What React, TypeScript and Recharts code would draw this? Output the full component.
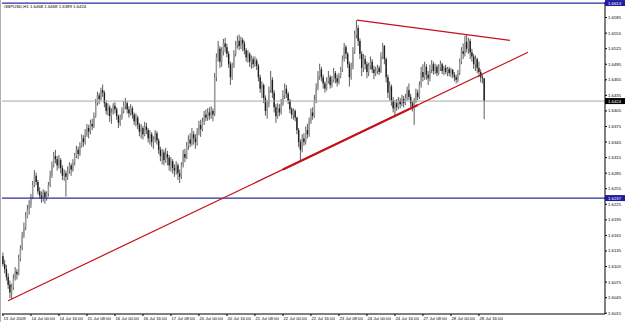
import React from "react";
import { ComposedChart, Bar, XAxis, YAxis, ReferenceLine } from "recharts";

// GBPUSD H1, prices stored as pips above 1.6000
const firstOpen = 125;

const closes = [
  110, 100, 85, 70, 55, 65, 82, 95, 90, 120,
  140, 165, 180, 200, 215, 225, 238, 262, 280, 268,
  250, 242, 236, 248, 238, 245, 262, 280, 300, 318,
  312, 300, 310, 295, 280, 285, 278, 290, 300, 292,
  305, 318, 330, 322, 338, 352, 345, 360, 372, 365,
  380, 375, 395, 420, 435, 428, 445, 440, 420, 405,
  412, 395, 402, 415, 408, 395, 382, 392, 405, 415,
  420, 408, 400, 410, 398, 385, 392, 378, 365, 372,
  360, 375, 368, 352, 360, 345, 350, 362, 348, 330,
  318, 325, 310, 322, 315, 300, 308, 295, 290, 300,
  285, 278, 300, 322, 315, 338, 350, 342, 360, 352,
  345, 365, 378, 370, 385, 398, 392, 402, 396, 405,
  398, 470, 508, 525, 500, 520, 535, 528, 515, 495,
  470, 492, 515, 532, 540, 530, 542, 535, 522, 508,
  515, 500, 505, 495, 502, 492, 470, 448, 455, 430,
  405, 418, 445, 465, 440, 412, 395, 410, 402, 418,
  435, 448, 438, 425, 408, 398, 405, 392, 368, 345,
  330, 352, 345, 368, 360, 385, 402, 395, 425, 450,
  472, 485, 470, 458, 448, 462, 470, 455, 465, 478,
  468, 460, 472, 485, 505, 528, 515, 495, 470, 490,
  520, 552, 565, 540, 515, 488, 505, 495, 480, 492,
  500, 485, 478, 482, 488, 480, 510, 530, 505, 470,
  440, 452, 425, 410, 420, 412, 425, 418, 428, 420,
  430, 445, 432, 420, 412, 425, 440, 432, 455, 480,
  470, 490, 475, 468, 485, 495, 482, 490, 478, 488,
  495, 482, 488, 480, 486, 478, 484, 475, 470, 465,
  478, 500, 520, 515, 538, 525, 540, 518, 510, 495,
  505, 488, 480, 470, 468, 424,
];

const highs = [
  132, 118, 108, 92, 78, 72, 90, 104, 100, 128,
  146, 172, 190, 210, 224, 233, 245, 270, 291, 286,
  272, 258, 250, 254, 252, 250, 268, 290, 308, 326,
  330, 318, 320, 314, 300, 292, 290, 298, 306, 304,
  312, 324, 338, 336, 345, 360, 358, 370, 380, 378,
  388, 390, 402, 428, 442, 440, 450, 456, 444, 425,
  420, 416, 410, 420, 422, 412, 398, 398, 412, 424,
  430, 424, 414, 418, 414, 402, 400, 396, 382, 380,
  376, 384, 382, 372, 368, 364, 356, 368, 366, 352,
  336, 332, 330, 334, 328, 320, 316, 312, 302, 308,
  304, 292, 306, 330, 332, 345, 358, 362, 372, 366,
  360, 372, 386, 388, 392, 405, 408, 410, 412, 414,
  410, 478, 516, 540, 530, 528, 544, 546, 535, 520,
  500, 498, 522, 540, 550, 552, 548, 546, 540, 526,
  522, 518, 512, 510, 510, 506, 496, 475, 462, 458,
  435, 426, 452, 482, 470, 445, 418, 420, 418, 428,
  445, 458, 455, 442, 428, 412, 410, 408, 394, 372,
  350, 360, 362, 375, 380, 392, 410, 412, 436, 458,
  482, 496, 490, 475, 462, 470, 482, 474, 472, 488,
  482, 475, 478, 490, 512, 536, 532, 518, 500, 498,
  528, 560, 580, 570, 545, 520, 515, 512, 500, 498,
  510, 505, 492, 490, 494, 492, 518, 536, 532, 508,
  475, 462, 456, 432, 426, 428, 432, 430, 436, 434,
  438, 452, 458, 438, 425, 430, 448, 446, 462, 490,
  495, 500, 495, 482, 494, 503, 500, 496, 494, 495,
  502, 498, 492, 494, 490, 490, 488, 486, 480, 475,
  484, 506, 528, 535, 550, 552, 546, 544, 525, 515,
  512, 508, 500, 485, 476, 468,
];

const lows = [
  105, 92, 78, 62, 44, 42, 60, 78, 80, 88,
  115, 136, 160, 175, 198, 205, 218, 235, 258, 262,
  244, 236, 228, 230, 226, 232, 240, 258, 276, 296,
  304, 290, 294, 285, 272, 270, 240, 272, 284, 280,
  288, 300, 314, 312, 318, 334, 336, 340, 355, 352,
  360, 368, 372, 392, 415, 418, 425, 432, 412, 398,
  396, 384, 380, 398, 400, 388, 372, 376, 388, 400,
  408, 400, 392, 396, 390, 378, 375, 370, 356, 352,
  350, 356, 360, 344, 340, 336, 332, 344, 340, 322,
  308, 302, 300, 305, 300, 290, 288, 284, 278, 282,
  272, 266, 274, 296, 306, 312, 330, 335, 338, 340,
  332, 338, 358, 355, 366, 378, 385, 386, 388, 390,
  385, 395, 462, 500, 488, 490, 512, 518, 508, 488,
  455, 465, 488, 510, 525, 522, 524, 520, 514, 500,
  498, 490, 486, 488, 490, 484, 462, 440, 430, 420,
  396, 390, 412, 440, 430, 402, 382, 390, 395, 398,
  415, 428, 430, 418, 400, 390, 388, 385, 360, 335,
  310, 325, 338, 340, 352, 355, 380, 388, 392, 420,
  445, 465, 462, 448, 440, 444, 458, 448, 450, 460,
  458, 452, 456, 468, 480, 500, 505, 488, 452, 465,
  485, 515, 545, 530, 505, 472, 480, 485, 468, 472,
  485, 478, 466, 472, 476, 474, 478, 505, 495, 460,
  430, 425, 415, 402, 393, 405, 408, 410, 414, 412,
  416, 425, 426, 412, 404, 378, 420, 426, 428, 450,
  462, 465, 465, 455, 462, 478, 475, 476, 472, 474,
  482, 476, 474, 476, 472, 472, 470, 468, 462, 458,
  460, 474, 495, 505, 510, 518, 515, 505, 500, 486,
  482, 478, 470, 460, 458, 389,
];

const xTicks = [0, 16, 32, 48, 64, 80, 96, 112, 128, 144, 160, 176, 192, 208, 224, 240, 256, 272];
const xLabels = [
  "13 Jul 2009", "14 Jul 00:00", "14 Jul 16:00", "15 Jul 08:00", "16 Jul 00:00",
  "16 Jul 16:00", "17 Jul 08:00", "20 Jul 00:00", "20 Jul 16:00", "21 Jul 08:00",
  "22 Jul 00:00", "22 Jul 16:00", "23 Jul 08:00", "24 Jul 00:00", "24 Jul 16:00",
  "27 Jul 08:00", "28 Jul 00:00", "28 Jul 16:00",
];

const yTicks = [
  1.6015, 1.6045, 1.6075, 1.6105, 1.6135, 1.6165, 1.6195, 1.6225, 1.6255, 1.6285,
  1.6315, 1.6345, 1.6375, 1.6405, 1.6435, 1.6465, 1.6495, 1.6525, 1.6555, 1.6585,
];

const bidPrice = 1.6424;
const supportPrice = 1.6237;
const topLinePrice = 1.6613;

// trendlines: bar index / price
const lowerTrend = [{ x: 2.9, y: 1.6039 }, { x: 300, y: 1.6518 }];
const lowerTrendDup = [{ x: 160, y: 1.62923 }, { x: 237, y: 1.64164 }];
const upperTrend = [{ x: 202.3, y: 1.658 }, { x: 289.7, y: 1.6541 }];

const title = "GBPUSD,H1  1.6468 1.6468 1.6389 1.6424";

const FONT = "Liberation Sans, Arial, sans-serif";
const BLUE = "#2b2ba6";
const RED = "#c4121a";

const px = (pips: number) => 1.6 + pips / 10000;

const data = closes.map((c, i) => {
  const o = i === 0 ? firstOpen : closes[i - 1];
  return {
    i,
    hl: [px(lows[i]), px(highs[i])],
    o: px(o),
    c: px(c),
    h: px(highs[i]),
    l: px(lows[i]),
  };
});

function Candle(props: any) {
  const { x, y, width, height, payload } = props;
  if (x == null || y == null) return null;
  const top = Math.min(y, y + height);
  const bottom = Math.max(y, y + height);
  const cx = x + width / 2;
  const { o, c, h, l } = payload;
  const span = h - l || 1;
  const py = (p: number) => top + ((h - p) / span) * (bottom - top);
  const bTop = py(Math.max(o, c));
  const bBot = py(Math.min(o, c));
  const bull = c >= o;
  return (
    <g>
      <line x1={cx} x2={cx} y1={top} y2={bottom} stroke="#333" strokeWidth={0.8} />
      <rect
        x={cx - 0.7}
        y={bTop}
        width={1.4}
        height={Math.max(0.6, bBot - bTop)}
        fill={bull ? "#9a9a9a" : "#1c1c1c"}
      />
    </g>
  );
}

function PriceTick(props: any) {
  const { x, y, payload } = props;
  const v = payload.value;
  let bg: string | null = null;
  if (Math.abs(v - bidPrice) < 1e-6) bg = "#000";
  else if (Math.abs(v - supportPrice) < 1e-6 || Math.abs(v - topLinePrice) < 1e-6) bg = "#1f1f9e";
  return (
    <g>
      {bg && <rect x={x - 3} y={y - 3} width={20} height={6} fill={bg} />}
      <text
        x={x}
        y={y + 1.5}
        fontSize={4.3}
        fontFamily={FONT}
        fill={bg ? "#fff" : "#000"}
        textAnchor="start"
      >
        {v.toFixed(4)}
      </text>
    </g>
  );
}

function TimeTick(props: any) {
  const { x, y, payload } = props;
  const k = xTicks.indexOf(payload.value);
  return (
    <text x={x + 0.5} y={y + 3.5} fontSize={4.3} fontFamily={FONT} fill="#000" textAnchor="start">
      {xLabels[k]}
    </text>
  );
}

export default function App() {
  return (
    <div style={{ position: "fixed", left: 0, top: 0, width: 625, height: 322, background: "#fff" }}>
      <ComposedChart width={625} height={322} data={data} margin={{ top: 2, right: 0, bottom: 0, left: 2 }}>
        <XAxis
          dataKey="i"
          type="number"
          domain={[-0.57, 344]}
          allowDataOverflow
          ticks={xTicks}
          interval={0}
          height={8}
          tickSize={2}
          tickMargin={0}
          stroke="#000"
          tick={<TimeTick />}
        />
        <YAxis
          orientation="right"
          type="number"
          domain={[1.60135, 1.6615]}
          allowDataOverflow
          ticks={[...yTicks, supportPrice, bidPrice, topLinePrice]}
          interval={0}
          width={20}
          tickSize={2}
          tickMargin={1}
          stroke="#000"
          tick={<PriceTick />}
        />
        <ReferenceLine y={bidPrice} stroke="#a8a8a8" strokeWidth={1} />
        <ReferenceLine y={supportPrice} stroke={BLUE} strokeWidth={1.3} />
        <ReferenceLine y={topLinePrice} stroke={BLUE} strokeWidth={1.3} />
        <Bar dataKey="hl" barSize={2} shape={<Candle />} isAnimationActive={false} />
        <ReferenceLine segment={lowerTrend} stroke={RED} strokeWidth={1.2} />
        <ReferenceLine segment={lowerTrendDup} stroke={RED} strokeWidth={2.2} />
        <ReferenceLine segment={upperTrend} stroke={RED} strokeWidth={1.2} />
      </ComposedChart>
      <svg width={625} height={322} style={{ position: "absolute", left: 0, top: 0, pointerEvents: "none" }}>
        <line x1={0.5} x2={0.5} y1={0} y2={322} stroke="#b0b0b0" strokeWidth={1} />
        <text x={4} y={8} fontSize={4.3} fontFamily={FONT} fill="#000">
          {title}
        </text>
      </svg>
    </div>
  );
}
